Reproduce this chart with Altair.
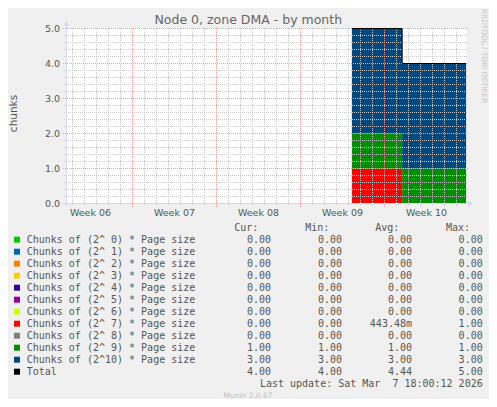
import altair as alt
import pandas as pd

# ---------------- data (x in days, relative to Monday 9 Feb 2026 00:00) ----------------
times = [18.28, 22.47, 27.80]

series_names = [
    "Chunks of (2^ 0) * Page size",
    "Chunks of (2^ 1) * Page size",
    "Chunks of (2^ 2) * Page size",
    "Chunks of (2^ 3) * Page size",
    "Chunks of (2^ 4) * Page size",
    "Chunks of (2^ 5) * Page size",
    "Chunks of (2^ 6) * Page size",
    "Chunks of (2^ 7) * Page size",
    "Chunks of (2^ 8) * Page size",
    "Chunks of (2^ 9) * Page size",
    "Chunks of (2^10) * Page size",
]
series_colors = ["#00CC00", "#0066B3", "#FF8000", "#FFCC00", "#330099", "#990099",
                 "#CCFF00", "#FF0000", "#808080", "#008F00", "#00487D"]
series_values = [
    [0, 0, 0], [0, 0, 0], [0, 0, 0], [0, 0, 0], [0, 0, 0], [0, 0, 0],
    [0, 0, 0], [1, 0, 0], [0, 0, 0], [1, 1, 1], [3, 3, 3],
]
total_values = [5, 4, 4]

legend_names = series_names + ["Total"]
legend_colors = series_colors + ["#000000"]
cur_vals = [0, 0, 0, 0, 0, 0, 0, 0, 0, 1, 3, 4]
min_vals = [0, 0, 0, 0, 0, 0, 0, 0, 0, 1, 3, 4]
avg_vals = [0, 0, 0, 0, 0, 0, 0, 0.44348, 0, 1, 3, 4.44]
max_vals = [0, 0, 0, 0, 0, 0, 0, 1, 0, 1, 3, 5]

week_labels = ["Week 06", "Week 07", "Week 08", "Week 09", "Week 10"]
week_centers = [-3.5, 3.5, 10.5, 17.5, 24.5]
week_starts = [0, 7, 14, 21]
minor_days = [d for d in range(-5, 28) if d % 7 != 0]
y_major = [0, 1, 2, 3, 4, 5]
y_minor = [round(i * 0.2, 1) for i in range(1, 25) if i % 5 != 0]

# ---------------- layout ----------------
W, H = 400, 175
XDOM = [-5.5, 334 / 12]
FONT = "DejaVu Sans"
MONO = "DejaVu Sans Mono"
TXT = "#555555"
GRID_MINOR = "#C8C8C8"
GRID_MAJOR = "#F2A0A0"

xs = alt.Scale(domain=XDOM, nice=False, zero=False)
ys = alt.Scale(domain=[0, 5], nice=False, zero=False)


def fmt(v):
    if 0 < abs(v) < 1:
        return f"{v * 1000:.2f}m"
    return f"{v:.2f}\u00a0"


rows = []
for i, (n, vals) in enumerate(zip(series_names, series_values)):
    for t, v in zip(times, vals):
        rows.append({"t": t, "v": v, "name": n, "idx": i})
df_area = pd.DataFrame(rows)
df_total = pd.DataFrame({"t": times, "v": total_values})

df_leg = pd.DataFrame({
    "row": list(range(len(legend_names))),
    "name": legend_names,
    "color": legend_colors,
    "cur": [fmt(v) for v in cur_vals],
    "min": [fmt(v) for v in min_vals],
    "avg": [fmt(v) for v in avg_vals],
    "max": [fmt(v) for v in max_vals],
})

area = alt.Chart(df_area).mark_area(interpolate="step-after", opacity=1).encode(
    x=alt.X("t:Q", scale=xs, axis=None),
    y=alt.Y("v:Q", stack="zero", scale=ys, axis=None),
    color=alt.Color("name:N", scale=alt.Scale(domain=series_names, range=series_colors), legend=None),
    order=alt.Order("idx:Q", sort="ascending"),
)

grid_xminor = alt.Chart(pd.DataFrame({"d": minor_days})).mark_rule(
    color=GRID_MINOR, strokeDash=[1, 1], strokeWidth=1
).encode(x=alt.X("d:Q", scale=xs), y=alt.value(-0.5), y2=alt.value(H + 2.5))

grid_yminor = alt.Chart(pd.DataFrame({"v": y_minor})).mark_rule(
    color=GRID_MINOR, strokeDash=[1, 1], strokeWidth=1
).encode(y=alt.Y("v:Q", scale=ys), x=alt.value(-2.5), x2=alt.value(W + 1.5))

grid_xmajor = alt.Chart(pd.DataFrame({"d": week_starts})).mark_rule(
    color=GRID_MAJOR, strokeDash=[1, 1], strokeWidth=1
).encode(x=alt.X("d:Q", scale=xs), y=alt.value(-0.5), y2=alt.value(H + 3.5))

grid_ymajor = alt.Chart(pd.DataFrame({"v": y_major[1:]})).mark_rule(
    color=GRID_MAJOR, strokeDash=[1, 1], strokeWidth=1
).encode(y=alt.Y("v:Q", scale=ys), x=alt.value(-3.5), x2=alt.value(W + 1.5))

total = alt.Chart(df_total).mark_line(interpolate="step-after", color="#000000", strokeWidth=1).encode(
    x=alt.X("t:Q", scale=xs), y=alt.Y("v:Q", scale=ys)
)

AXC = "#CFD6F8"
xaxis_line = alt.Chart().mark_rule(color=AXC, strokeWidth=1).encode(
    x=alt.value(-3), x2=alt.value(W + 3), y=alt.value(H))
yaxis_line = alt.Chart().mark_rule(color=AXC, strokeWidth=1).encode(
    y=alt.value(-3), y2=alt.value(H + 3), x=alt.value(0))
arrow_up = alt.Chart().mark_point(shape="triangle-up", filled=True, color=AXC, size=28, opacity=1).encode(
    x=alt.value(0), y=alt.value(-5))
arrow_right = alt.Chart().mark_point(shape="triangle-right", filled=True, color=AXC, size=28, opacity=1).encode(
    x=alt.value(W + 4), y=alt.value(H))

ylabels = alt.Chart(pd.DataFrame({"v": y_major, "lab": [f"{v:.1f}" for v in y_major]})).mark_text(
    align="right", baseline="middle", font=FONT, fontSize=9.5, color=TXT
).encode(y=alt.Y("v:Q", scale=ys), x=alt.value(-6.5), text="lab:N")

xlabels = alt.Chart(pd.DataFrame({"d": week_centers, "lab": week_labels})).mark_text(
    align="center", baseline="middle", font=FONT, fontSize=9.5, color=TXT
).encode(x=alt.X("d:Q", scale=xs), y=alt.value(H + 9), text="lab:N")

title = alt.Chart().mark_text(text="Node 0, zone DMA - by month", align="center", baseline="middle",
                              font=FONT, fontSize=12.5, color="#666666").encode(
    x=alt.value(181.8), y=alt.value(-9))
ytitle = alt.Chart().mark_text(text="chunks", align="center", baseline="middle", angle=270,
                               font=FONT, fontSize=10.5, color=TXT).encode(
    x=alt.value(-52.5), y=alt.value(85))
rrd = alt.Chart().mark_text(text="RRDTOOL / TOBI OETIKER", align="center", baseline="middle", angle=90,
                            font=FONT, fontSize=7.3, color="#C8C8C8").encode(
    x=alt.value(417), y=alt.value(27.5))
munin = alt.Chart().mark_text(text="Munin 2.0.67", align="center", baseline="middle",
                              font=FONT, fontSize=7.5, color="#C0C0C0").encode(
    x=alt.value(181.5), y=alt.value(367.8))
lastupd = alt.Chart().mark_text(text="Last update: Sat Mar\u00a0\u00a07 18:00:12 2026", align="right",
                                baseline="middle", font=MONO, fontSize=10, color=TXT).encode(
    x=alt.value(416.2), y=alt.value(355.2))

headers = []
for htxt, hx in zip(["Cur:", "Min:", "Avg:", "Max:"], [191.8, 262.8, 332.8, 403.5]):
    headers.append(alt.Chart().mark_text(text=htxt, align="right", baseline="middle",
                                         font=MONO, fontSize=10, color=TXT).encode(
        x=alt.value(hx), y=alt.value(199.8)))

leg_base = alt.Chart(df_leg).transform_calculate(py="211.2 + 12 * datum.row")
leg_sq = leg_base.mark_square(size=36, filled=True, opacity=1).encode(
    x=alt.value(-49.5), y=alt.Y("py:Q", scale=None), color=alt.Color("color:N", scale=None))
leg_txt = leg_base.mark_text(align="left", baseline="middle", font=MONO, fontSize=10, color=TXT).encode(
    x=alt.value(-39.8), y=alt.Y("py:Q", scale=None), text="name:N")
cols = []
for field, cx in zip(["cur", "min", "avg", "max"], [204.5, 275.5, 345.5, 416.2]):
    cols.append(leg_base.mark_text(align="right", baseline="middle", font=MONO, fontSize=10, color=TXT).encode(
        x=alt.value(cx), y=alt.Y("py:Q", scale=None), text=f"{field}:N"))

chart = alt.layer(
    area, grid_xminor, grid_yminor, grid_xmajor, grid_ymajor, total,
    xaxis_line, yaxis_line, arrow_up, arrow_right,
    ylabels, xlabels, title, ytitle, rrd, munin, lastupd, *headers,
    leg_sq, leg_txt, *cols,
).properties(
    width=W, height=H, background="#F0F0F0",
    padding={"left": 58.5, "top": 20.5, "right": 22.5, "bottom": 195.5},
    autosize=alt.AutoSizeParams(type="none"),
).configure_view(fill="white", stroke=None)

chart.save("out.html", embed_options={"renderer": "svg", "actions": False})
